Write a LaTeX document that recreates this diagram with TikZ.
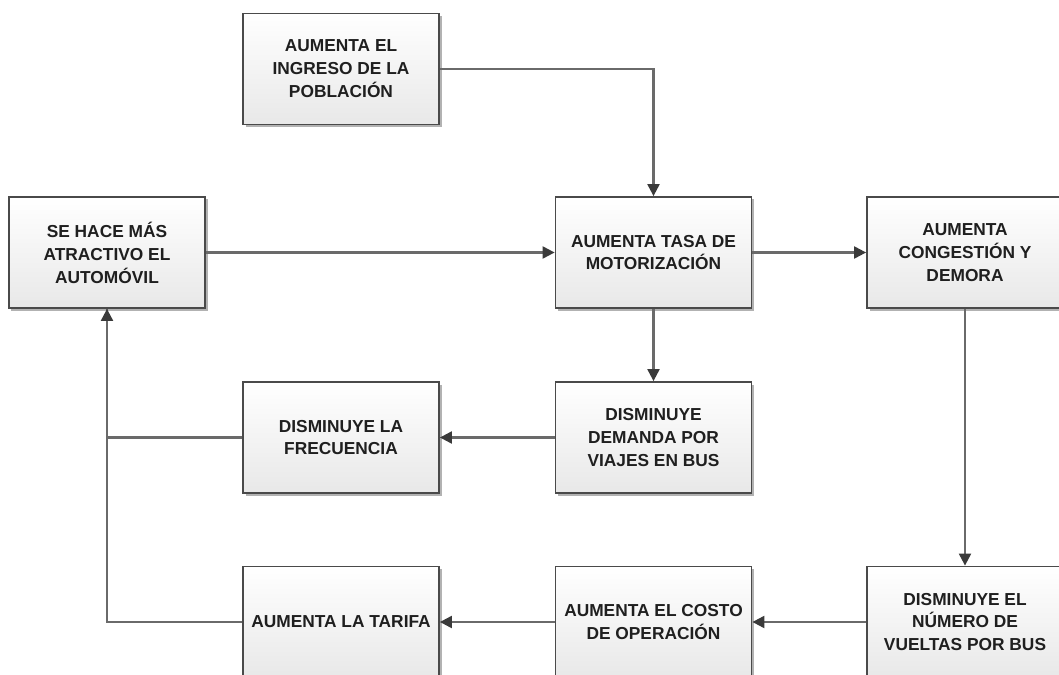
\documentclass[tikz,border=0pt]{standalone}
\usepackage{fontspec}
\setmainfont{Liberation Sans}
\usetikzlibrary{arrows.meta, shadows}

\definecolor{linegray}{HTML}{6A6A6A}
\definecolor{framegray}{HTML}{4A4A4A}
\definecolor{tipgray}{HTML}{3A3A3A}

\begin{document}
\begin{tikzpicture}[
        x = 1bp, y = -1bp,
        box/.style = {
            draw = framegray, line width = 1.8bp,
            top color = white, bottom color = black!9,
            minimum width = 196bp, minimum height = 111bp,
            align = center, text = black!88,
            font = \fontsize{17.4}{23}\selectfont\bfseries,
            drop shadow = {shadow xshift = 2.5bp, shadow yshift = -2.5bp,
                fill = black, opacity = 0.3}
        },
        flow/.style = {
            draw = linegray, line width = 2.1bp,
            -{Triangle[length = 12bp, width = 12bp, color = tipgray]}
        },
        link/.style = {draw = linegray, line width = 2.1bp}
    ]
    \useasboundingbox (0, 0) rectangle (1059, 675);
    \clip (0, 0) rectangle (1059, 675);
    \path
        (341, 69) node[box] (ingreso) {AUMENTA EL\\INGRESO DE LA\\POBLACIÓN}
        (107, 252.5) node[box] (auto) {SE HACE MÁS\\ATRACTIVO EL\\AUTOMÓVIL}
        (653.5, 252.5) node[box] (motor) {AUMENTA TASA DE\\MOTORIZACIÓN}
        (965, 252.5) node[box] (congestion) {AUMENTA\\CONGESTIÓN Y\\DEMORA}
        (341, 437.5) node[box] (frecuencia) {DISMINUYE LA\\FRECUENCIA}
        (653.5, 437.5) node[box] (demanda) {DISMINUYE\\DEMANDA POR\\VIAJES EN BUS}
        (341, 622) node[box] (tarifa) {AUMENTA LA TARIFA}
        (653.5, 622) node[box] (costo) {AUMENTA EL COSTO\\DE OPERACIÓN}
        (965, 622) node[box] (vueltas) {DISMINUYE EL\\NÚMERO DE\\VUELTAS POR BUS}
    ;
    \draw[flow] (ingreso) -| (motor);
    \draw[flow] (auto) -- (motor);
    \draw[flow] (motor) -- (congestion);
    \draw[flow] (motor) -- (demanda);
    \draw[flow] (demanda) -- (frecuencia);
    \draw[flow] (congestion) -- (vueltas);
    \draw[flow] (vueltas) -- (costo);
    \draw[flow] (costo) -- (tarifa);
    \draw[link] (frecuencia) -| (auto);
    \draw[flow] (tarifa) -| (auto);
\end{tikzpicture}
\end{document}
